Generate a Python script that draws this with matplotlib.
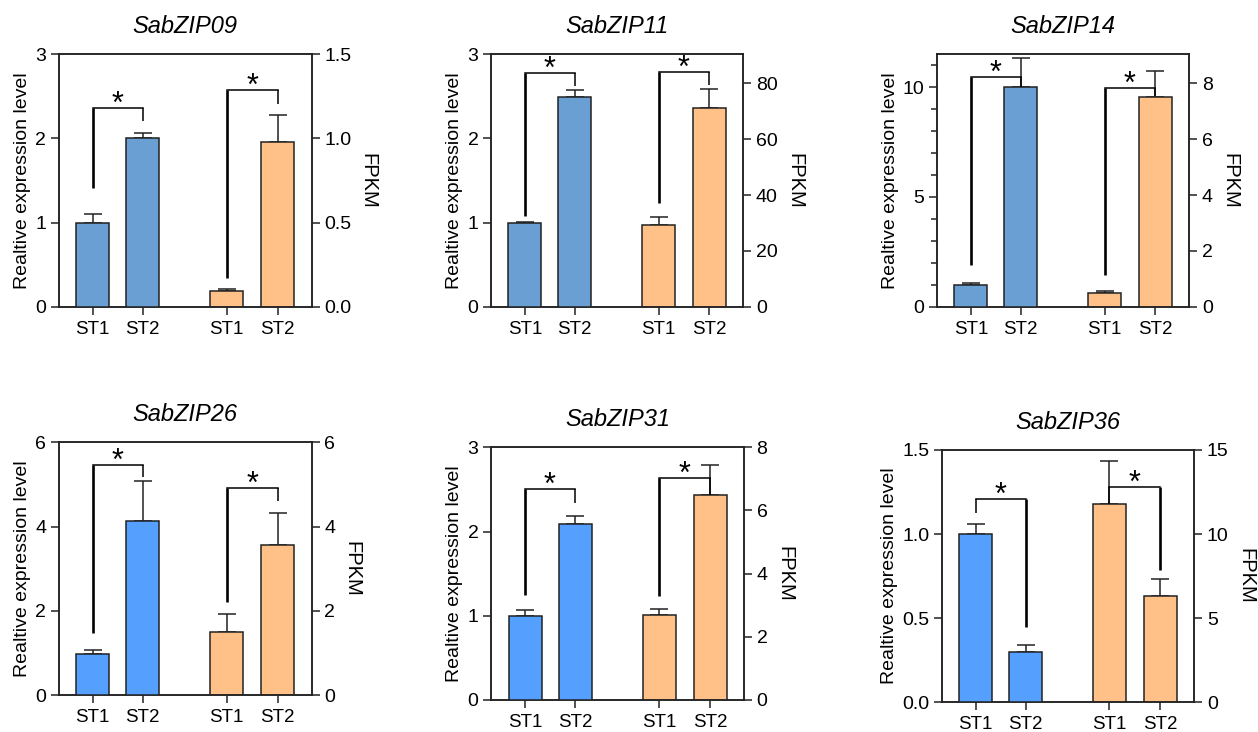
import numpy as np
import matplotlib
matplotlib.use("Agg")
import matplotlib.pyplot as plt
from matplotlib.ticker import MultipleLocator, FormatStrFormatter

plt.rcParams["font.family"] = ["Liberation Sans", "DejaVu Sans"]

genes = ["SabZIP09", "SabZIP11", "SabZIP14", "SabZIP26", "SabZIP31", "SabZIP36"]
stages = ["ST1", "ST2"]

# relative expression (qRT-PCR), left axis
rel_st1 = [1.0, 1.0, 0.97, 0.98, 1.0, 1.0]
rel_st1_err = [0.10, 0.01, 0.10, 0.10, 0.07, 0.062]
rel_st2 = [2.0, 2.49, 10.0, 4.12, 2.09, 0.30]
rel_st2_err = [0.06, 0.085, 1.32, 0.97, 0.10, 0.042]

# FPKM (RNA-seq), right axis
fpkm_st1 = [0.095, 29.1, 0.48, 1.50, 2.68, 11.77]
fpkm_st1_err = [0.012, 3.1, 0.09, 0.42, 0.20, 2.57]
fpkm_st2 = [0.977, 71.0, 7.52, 3.56, 6.49, 6.34]
fpkm_st2_err = [0.16, 6.9, 0.93, 0.76, 0.94, 0.97]

# axis ranges / ticks
rel_top = [3, 3, 11.5, 6, 3, 1.5]
rel_ticks = [[0, 1, 2, 3], [0, 1, 2, 3], [0, 5, 10], [0, 2, 4, 6], [0, 1, 2, 3], [0, 0.5, 1.0, 1.5]]
fpkm_top = [1.5, 90.4, 9.04, 6, 8, 15]
fpkm_ticks = [[0, 0.5, 1.0, 1.5], [0, 20, 40, 60, 80], [0, 2, 4, 6, 8], [0, 2, 4, 6], [0, 2, 4, 6, 8], [0, 5, 10, 15]]
rel_fmt = ["%d", "%d", "%d", "%d", "%d", "%.1f"]
fpkm_fmt = ["%.1f", "%d", "%d", "%d", "%d", "%d"]

# significance brackets, in left-axis units: (left leg bottom, top, right leg bottom)
blue_brackets = [(1.415, 2.365, 2.21), (1.078, 2.78, 2.62), (1.9, 10.46, 10.0),
                 (1.48, 5.47, 5.17), (1.25, 2.50, 2.34), (1.123, 1.207, 0.446)]
orange_brackets = [(0.345, 2.57, 2.41), (1.23, 2.79, 2.635), (1.45, 9.97, 9.59),
                   (2.2, 4.91, 4.61), (1.24, 2.64, 2.43), (1.177, 1.282, 0.787)]

blue_colors = ["#6A9FD4", "#6A9FD4", "#6A9FD4", "#559FFF", "#559FFF", "#559FFF"]
orange = "#FFC187"
edge = "#222222"

# axes boxes in pixels: left, top, right, bottom
boxes = [(58.7, 54.3, 311.7, 306.7), (491, 54.3, 743.3, 306.7), (937, 54.3, 1189.3, 306.7),
         (58.7, 442.3, 311.7, 695), (491, 447.3, 744, 700), (941.7, 450, 1194.3, 702.3)]

W, H = 1258, 732
fig = plt.figure(figsize=(W / 100, H / 100), dpi=100)

x_blue = np.array([0.0, 1.0])
x_orange = np.array([2.68, 3.7])
bw = 0.66


def bracket(ax, x0, x1, legs):
    y0, ytop, y1 = legs
    long_left = (ytop - y0) > (ytop - y1)
    ax.plot([x0, x0], [y0, ytop], color="black", lw=1.9 if long_left else 1.1,
            solid_capstyle="butt", zorder=5)
    ax.plot([x1, x1], [y1, ytop], color="black", lw=1.1 if long_left else 1.9,
            solid_capstyle="butt", zorder=5)
    ax.plot([x0, x1], [ytop, ytop], color="black", lw=1.1, zorder=5)
    ax.annotate("*", xy=((x0 + x1) / 2, ytop), xytext=(0, -3.5), textcoords="offset points",
                ha="center", va="baseline", fontsize=22, zorder=6, annotation_clip=False)


for i, gene in enumerate(genes):
    l, t, r, b = boxes[i]
    ax = fig.add_axes([l / W, 1 - b / H, (r - l) / W, (b - t) / H])
    ax2 = ax.twinx()
    ax.set_zorder(ax2.get_zorder() + 1)
    ax.patch.set_visible(False)

    ax.bar(x_blue, [rel_st1[i], rel_st2[i]], width=bw, color=blue_colors[i],
           edgecolor=edge, linewidth=1.1, zorder=3)
    ax.errorbar(x_blue, [rel_st1[i], rel_st2[i]],
                yerr=[[0, 0], [rel_st1_err[i], rel_st2_err[i]]],
                fmt="none", ecolor=edge, elinewidth=1.1, capsize=6.5, capthick=1.1, zorder=2)

    ax2.bar(x_orange, [fpkm_st1[i], fpkm_st2[i]], width=bw, color=orange,
            edgecolor=edge, linewidth=1.1, zorder=3)
    ax2.errorbar(x_orange, [fpkm_st1[i], fpkm_st2[i]],
                 yerr=[[0, 0], [fpkm_st1_err[i], fpkm_st2_err[i]]],
                 fmt="none", ecolor=edge, elinewidth=1.1, capsize=6.5, capthick=1.1, zorder=2)

    ax.set_xlim(-0.68, 4.38)
    ax.set_ylim(0, rel_top[i])
    ax2.set_ylim(0, fpkm_top[i])
    ax.set_yticks(rel_ticks[i])
    ax2.set_yticks(fpkm_ticks[i])
    ax.yaxis.set_major_formatter(FormatStrFormatter(rel_fmt[i]))
    ax2.yaxis.set_major_formatter(FormatStrFormatter(fpkm_fmt[i]))
    if i == 2:
        ax.yaxis.set_minor_locator(MultipleLocator(1))
        ax.tick_params(axis="y", which="minor", direction="out", length=4, width=1.1, color=edge)

    ax.set_xticks(np.concatenate([x_blue, x_orange]))
    ax.set_xticklabels(stages * 2)

    for a in (ax, ax2):
        for s in a.spines.values():
            s.set_linewidth(1.1)
            s.set_color(edge)
        a.tick_params(which="major", direction="out", length=6, width=1.1, color=edge,
                      labelsize=14, pad=3)
    ax.tick_params(axis="x", labelsize=13.5, pad=4)

    ax.set_ylabel("Realtive expression level", fontsize=14, labelpad=3)
    ax2.set_ylabel("FPKM", fontsize=14.5, rotation=270, labelpad=19)
    ax.set_title(gene, fontsize=17, style="italic", pad=15)

    bracket(ax, x_blue[0], x_blue[1], blue_brackets[i])
    bracket(ax, x_orange[0], x_orange[1], orange_brackets[i])

fig.savefig("out.png", dpi=100)
